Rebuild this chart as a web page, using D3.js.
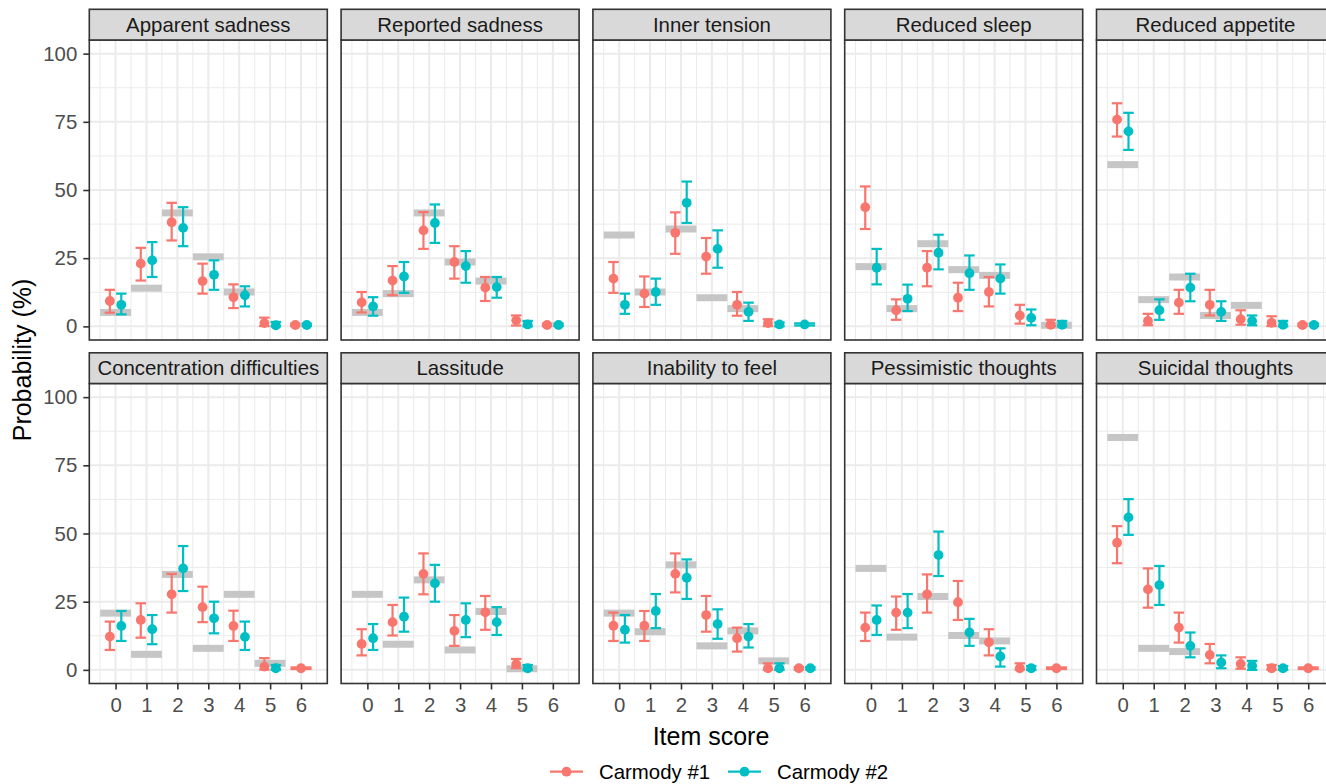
<!DOCTYPE html>
<html>
<head>
<meta charset="utf-8">
<script src="https://cdn.jsdelivr.net/npm/d3@7"></script>
<style>
  html, body { margin: 0; padding: 0; background: #fff; }
  svg { display: block; font-family: "Liberation Sans", Arial, sans-serif; }
</style>
</head>
<body>
<div id="chart"></div>
<script>
const items = [
  "Apparent sadness", "Reported sadness", "Inner tension", "Reduced sleep", "Reduced appetite",
  "Concentration difficulties", "Lassitude", "Inability to feel", "Pessimistic thoughts", "Suicidal thoughts"
];
const scores = [0, 1, 2, 3, 4, 5, 6];
const yTicks = [0, 25, 50, 75, 100];
const seriesNames = ["Carmody #1", "Carmody #2"];

// grey reference bars (probability %, null = none)
const refProb = [
  [5.1, 14.0, 41.6, 25.5, 12.6, null, null],
  [5.1, 12.0, 41.6, 23.6, 16.6, null, null],
  [33.5, 12.6, 35.7, 10.5, 6.5, null, null],
  [21.9, 6.5, 30.3, 20.8, 18.7, null, 0.4],
  [59.3, 9.8, 18.1, 4.0, 7.7, null, null],
  [20.8, 5.7, 35.0, 7.9, 27.7, 2.4, null],
  [27.7, 9.4, 33.0, 7.3, 21.4, 0.4, null],
  [20.8, 14.0, 38.5, 8.8, 14.3, 3.3, null],
  [37.2, 12.0, 26.9, 12.6, 10.6, null, null],
  [85.2, 7.9, 6.7, null, null, null, null]
];

// Carmody #1
const c1Est = [
  [9.3, 23.0, 38.2, 16.6, 10.7, 1.2, 0.5],
  [8.8, 16.8, 35.2, 23.6, 14.2, 2.2, 0.5],
  [17.5, 12.0, 34.3, 25.6, 7.9, 1.2, null],
  [43.7, 5.9, 21.5, 10.5, 12.6, 4.0, 0.6],
  [75.8, 2.0, 8.7, 7.9, 2.6, 1.3, 0.5],
  [12.2, 18.3, 27.7, 23.0, 16.1, 1.2, 0.6],
  [9.5, 17.5, 35.2, 14.3, 21.1, 2.1, null],
  [16.2, 16.2, 35.2, 20.1, 11.6, 0.6, 0.6],
  [15.5, 21.0, 27.7, 24.8, 10.1, 0.6, 0.6],
  [46.6, 29.5, 15.5, 5.5, 2.2, 0.6, 0.6]
];
const c1Lo = [
  [5.0, 16.8, 31.5, 12.0, 6.7, 0.1, 0.1],
  [5.1, 11.4, 28.4, 17.5, 9.3, 0.3, 0.1],
  [12.3, 7.1, 26.6, 19.3, 3.9, 0.1, null],
  [35.7, 2.4, 14.7, 5.6, 7.3, 1.0, 0.1],
  [69.6, 0.4, 4.6, 4.0, 0.6, 0.1, 0.1],
  [7.3, 11.8, 21.0, 17.5, 10.6, 0.1, 0.3],
  [5.3, 12.6, 27.7, 8.8, 14.7, 0.6, null],
  [10.6, 10.6, 28.4, 14.0, 6.7, 0.1, 0.1],
  [10.6, 14.7, 21.0, 18.3, 5.3, 0.1, 0.3],
  [39.1, 22.8, 10.0, 2.4, 0.4, 0.1, 0.3]
];
const c1Hi = [
  [13.4, 28.8, 45.3, 23.0, 15.4, 3.2, 1.0],
  [12.6, 22.1, 41.9, 29.4, 18.1, 4.0, 1.0],
  [23.6, 18.3, 41.8, 32.4, 12.6, 2.6, null],
  [51.3, 9.9, 27.6, 16.0, 18.1, 7.9, 2.4],
  [81.8, 4.6, 13.4, 13.4, 5.9, 3.7, 1.0],
  [17.7, 24.4, 35.2, 30.5, 21.7, 4.3, 0.9],
  [14.9, 23.8, 42.7, 20.1, 27.1, 4.0, null],
  [21.0, 21.6, 42.7, 27.1, 15.5, 2.4, 1.0],
  [21.0, 26.9, 35.0, 32.6, 14.9, 2.4, 0.9],
  [52.7, 37.2, 21.0, 9.5, 4.6, 1.8, 0.9]
];

// Carmody #2
const c2Est = [
  [7.9, 24.2, 36.1, 18.9, 11.4, 0.4, 0.5],
  [7.3, 18.3, 37.9, 22.1, 14.4, 0.7, 0.5],
  [7.9, 12.6, 45.3, 28.4, 5.3, 0.7, 0.7],
  [21.5, 10.1, 27.0, 19.5, 17.5, 3.1, 0.6],
  [71.5, 5.9, 14.2, 5.3, 2.0, 0.6, 0.5],
  [16.1, 14.9, 37.2, 18.9, 12.1, 0.6, null],
  [11.6, 19.5, 31.7, 18.3, 17.5, 0.6, null],
  [14.7, 21.6, 33.8, 16.8, 12.2, 0.6, 0.6],
  [18.3, 21.0, 42.1, 13.7, 4.9, 0.6, null],
  [55.9, 31.1, 8.8, 2.7, 1.5, 0.6, null]
];
const c2Lo = [
  [4.4, 18.1, 29.4, 13.4, 7.3, 0, 0.1],
  [3.9, 12.3, 30.6, 16.0, 10.5, 0, 0.1],
  [4.6, 7.9, 37.9, 21.5, 2.0, 0, 0.3],
  [15.4, 5.6, 20.9, 13.4, 12.0, 0.4, 0],
  [64.7, 2.4, 9.2, 2.0, 0.4, 0, 0.1],
  [10.6, 9.4, 28.9, 13.4, 7.3, 0, null],
  [7.3, 14.0, 25.0, 12.0, 12.8, 0, null],
  [10.0, 15.3, 26.0, 11.4, 8.2, 0, 0.1],
  [12.8, 15.3, 34.4, 8.8, 1.2, 0, null],
  [49.5, 23.8, 4.6, 0.6, 0, 0, null]
];
const c2Hi = [
  [12.0, 30.9, 43.7, 24.2, 14.7, 1.6, 1.0],
  [10.7, 23.6, 44.7, 27.6, 18.1, 2.0, 1.0],
  [12.0, 17.5, 53.1, 35.2, 8.7, 1.4, 1.1],
  [28.4, 15.3, 33.6, 26.0, 22.7, 6.2, 2.0],
  [78.3, 9.9, 19.3, 9.2, 4.0, 2.0, 1.0],
  [21.6, 20.1, 45.4, 25.0, 17.7, 1.8, null],
  [16.8, 26.5, 38.5, 24.4, 23.0, 1.8, null],
  [20.1, 27.8, 40.5, 22.2, 16.8, 2.4, 1.0],
  [23.6, 27.8, 50.7, 18.7, 7.9, 1.4, null],
  [62.6, 38.1, 13.7, 5.3, 3.3, 1.4, null]
];

const colors = ["#F8766D", "#00BFC4"];

const width = 1326, height = 784;
const panelLeft0 = 89.3, colStep = 251.8, pw = 238;
const rowTop = [40, 383.5], ph = 300, stripH = 30.7;
const dotR = 4.9;

const svg = d3.select("#chart").append("svg")
  .attr("width", width).attr("height", height);

const x = d3.scaleLinear().domain([-0.85, 6.85]).range([0, pw]);
const y = d3.scaleLinear().domain([-5, 105]).range([ph, 0]);

const xMinor = scores.map(s => s - 0.5).concat([scores[scores.length - 1] + 0.5]);
const yMinor = yTicks.slice(0, -1).map(v => v + 12.5);

items.forEach((name, i) => {
  const col = i % 5, row = Math.floor(i / 5);
  const g = svg.append("g")
    .attr("transform", `translate(${panelLeft0 + col * colStep},${rowTop[row]})`);

  // grid
  const grid = g.append("g");
  grid.selectAll(".ymin").data(yMinor).enter().append("line")
    .attr("x1", 0).attr("x2", pw).attr("y1", d => y(d)).attr("y2", d => y(d))
    .attr("stroke", "#EBEBEB").attr("stroke-width", 1);
  grid.selectAll(".xmin").data(xMinor).enter().append("line")
    .attr("y1", 0).attr("y2", ph).attr("x1", d => x(d)).attr("x2", d => x(d))
    .attr("stroke", "#EBEBEB").attr("stroke-width", 1);
  grid.selectAll(".ymaj").data(yTicks).enter().append("line")
    .attr("x1", 0).attr("x2", pw).attr("y1", d => y(d)).attr("y2", d => y(d))
    .attr("stroke", "#EBEBEB").attr("stroke-width", 2);
  grid.selectAll(".xmaj").data(scores).enter().append("line")
    .attr("y1", 0).attr("y2", ph).attr("x1", d => x(d)).attr("x2", d => x(d))
    .attr("stroke", "#EBEBEB").attr("stroke-width", 2);

  // grey reference bars
  const ref = scores.map((s, k) => ({ s, v: refProb[i][k] })).filter(d => d.v != null);
  g.append("g").selectAll("rect").data(ref).enter().append("rect")
    .attr("x", d => x(d.s - 0.5))
    .attr("width", d => x(d.s + 0.5) - x(d.s - 0.5))
    .attr("y", d => y(d.v) - 3.5)
    .attr("height", 7)
    .attr("fill", "#C6C6C6");

  // estimates, dodged when both series present
  const pts = [];
  scores.forEach((s, k) => {
    const e = [c1Est[i][k], c2Est[i][k]];
    const lo = [c1Lo[i][k], c2Lo[i][k]];
    const hi = [c1Hi[i][k], c2Hi[i][k]];
    const present = [0, 1].filter(j => e[j] != null);
    present.forEach(j => {
      const both = present.length === 2;
      pts.push({
        s, j,
        xc: s + (both ? (j === 0 ? -0.185 : 0.185) : 0),
        hw: both ? 0.17 : 0.34,
        est: e[j], lo: lo[j], hi: hi[j]
      });
    });
  });

  const eb = g.append("g").selectAll("g").data(pts).enter().append("g")
    .attr("stroke", d => colors[d.j]).attr("stroke-width", 2.2).attr("fill", "none");
  eb.append("line")
    .attr("x1", d => x(d.xc)).attr("x2", d => x(d.xc))
    .attr("y1", d => y(d.lo)).attr("y2", d => y(d.hi));
  eb.append("line")
    .attr("x1", d => x(d.xc - d.hw)).attr("x2", d => x(d.xc + d.hw))
    .attr("y1", d => y(d.hi)).attr("y2", d => y(d.hi));
  eb.append("line")
    .attr("x1", d => x(d.xc - d.hw)).attr("x2", d => x(d.xc + d.hw))
    .attr("y1", d => y(d.lo)).attr("y2", d => y(d.lo));

  g.append("g").selectAll("circle").data(pts).enter().append("circle")
    .attr("cx", d => x(d.xc)).attr("cy", d => y(d.est))
    .attr("r", dotR).attr("fill", d => colors[d.j]);

  // border
  g.append("rect").attr("width", pw).attr("height", ph)
    .attr("fill", "none").attr("stroke", "#333333").attr("stroke-width", 1.6);

  // strip
  g.append("rect").attr("y", -stripH).attr("width", pw).attr("height", stripH)
    .attr("fill", "#D9D9D9").attr("stroke", "#333333").attr("stroke-width", 1.6);
  g.append("text").attr("x", pw / 2).attr("y", -stripH / 2 + 7)
    .attr("text-anchor", "middle").attr("font-size", 20.4).attr("fill", "#1A1A1A")
    .text(name);

  // axes
  if (col === 0) {
    const ax = g.append("g").call(d3.axisLeft(y).tickValues(yTicks).tickSize(6).tickPadding(6));
    ax.select(".domain").remove();
    ax.selectAll("line").attr("stroke", "#333333").attr("stroke-width", 1.6);
    ax.selectAll("text").attr("font-size", 20.4).attr("fill", "#4D4D4D")
      .attr("font-family", "Liberation Sans, Arial, sans-serif");
  }
  if (row === 1) {
    const ax = g.append("g").attr("transform", `translate(0,${ph})`)
      .call(d3.axisBottom(x).tickValues(scores).tickSize(6).tickPadding(8).tickFormat(d3.format("d")));
    ax.select(".domain").remove();
    ax.selectAll("line").attr("stroke", "#333333").attr("stroke-width", 1.6);
    ax.selectAll("text").attr("font-size", 20.4).attr("fill", "#4D4D4D")
      .attr("font-family", "Liberation Sans, Arial, sans-serif");
  }
});

// axis titles
svg.append("text").attr("x", 711).attr("y", 745).attr("text-anchor", "middle")
  .attr("font-size", 25).attr("fill", "#000").text("Item score");
svg.append("text").attr("transform", "translate(31,360) rotate(-90)")
  .attr("text-anchor", "middle").attr("font-size", 25).attr("fill", "#000")
  .text("Probability (%)");

// legend
const legendX = [550, 728];
const lg = svg.append("g").selectAll("g").data(seriesNames).enter().append("g")
  .attr("transform", (d, k) => `translate(${legendX[k]},771.7)`);
lg.append("line").attr("x1", 0).attr("x2", 33).attr("y1", 0).attr("y2", 0)
  .attr("stroke", (d, k) => colors[k]).attr("stroke-width", 2.2);
lg.append("circle").attr("cx", 16.5).attr("r", dotR).attr("fill", (d, k) => colors[k]);
lg.append("text").attr("x", 49).attr("y", 7).attr("font-size", 20.4).attr("fill", "#000")
  .text(d => d);
</script>
</body>
</html>
